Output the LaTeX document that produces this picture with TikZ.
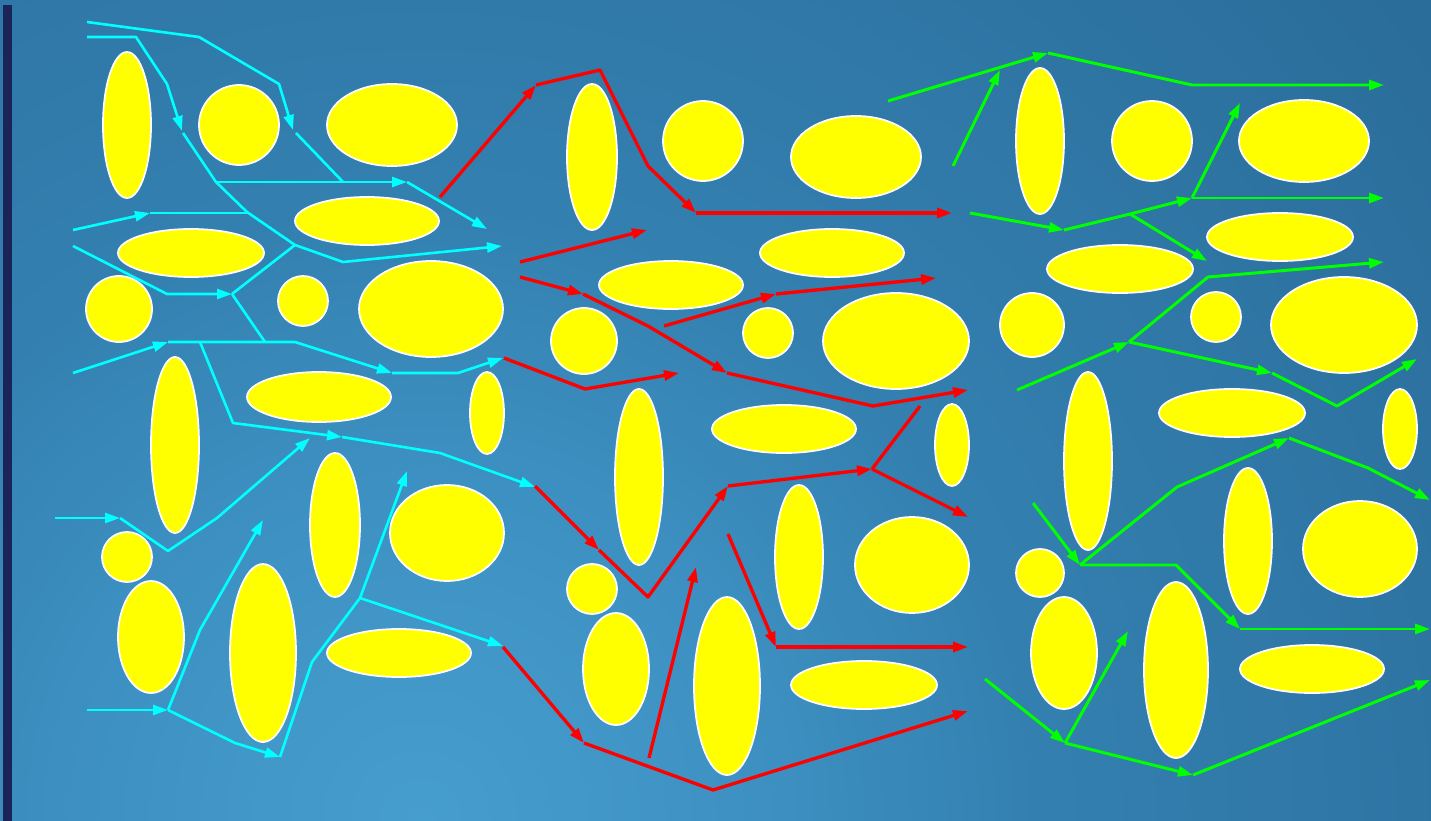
\documentclass[tikz,border=0pt]{standalone}
\usepackage{tikz}
\usetikzlibrary{arrows.meta}
\definecolor{bgA}{HTML}{469ECE}
\definecolor{bgB}{HTML}{3D91C2}
\definecolor{bgC}{HTML}{3380B0}
\definecolor{bgD}{HTML}{2B6E9C}
\definecolor{bgE}{HTML}{246793}
\definecolor{bgF}{HTML}{1F6390}
\definecolor{bgG}{HTML}{1E6290}
\definecolor{stripcol}{HTML}{1B2459}
\definecolor{grainfill}{HTML}{FFFF00}
\definecolor{cyanflow}{HTML}{00FFFF}
\definecolor{redflow}{HTML}{FF0000}
\definecolor{greenflow}{HTML}{00FF00}
\pgfdeclareradialshading{porebg}{\pgfpoint{0bp}{0bp}}{%
    color(0bp)=(bgA); color(6bp)=(bgB); color(11bp)=(bgC);
    color(22bp)=(bgD); color(28bp)=(bgE); color(36bp)=(bgF);
    color(50bp)=(bgG)}
\tikzset{
    grain/.style={
        fill=grainfill, draw=white, line width=1pt,
    },
    cyanline/.style={cyanflow, line width=1.5pt, line join=round},
    cyanarr/.style={cyanline, -{Triangle[length=0.3cm, width=0.2cm]}},
    redline/.style={redflow, line width=1.9pt, line join=round},
    redarr/.style={redline, -{Triangle[length=0.3cm, width=0.2cm]}},
    greenline/.style={greenflow, line width=1.7pt, line join=round},
    greenarr/.style={greenline, -{Triangle[length=0.3cm, width=0.2cm]}},
}
\begin{document}
\begin{tikzpicture}[x=0.02cm, y=-0.02cm]

\useasboundingbox (0,0) rectangle (1431,821);

% ── Background ─────────────────────────────────────────────────────
\begin{scope}
\clip (0,0) rectangle (1431,821);
\shade[shading=porebg] (420,820) circle [radius=1400];
\end{scope}
\fill[stripcol] (3,5) rectangle (12,821);

% ── Grains ─────────────────────────────────────────────────────────
\foreach \cx/\cy/\rx/\ry in {
    127/125/24/73, 239/125/40/40, 392/125/65/41, 367/221/72/24,
    191/253/73/24, 119/309/33/33, 303/301/25/25, 431/309/72/48,
    175/445/24/88, 319/397/72/25, 487/413/17/41, 335/525/25/72,
    447/533/57/48, 127/557/25/25, 151/637/33/56, 263/653/33/89,
    399/653/72/24,
    592/157/25/73, 703/141/40/40, 856/157/65/41, 832/253/72/24,
    671/285/72/24, 584/341/33/33, 768/333/25/25, 896/341/73/48,
    639/477/24/88, 784/429/72/24, 952/445/17/41, 799/557/24/72,
    912/565/57/48, 592/589/25/25, 616/669/33/56, 727/686/33/89,
    864/685/73/24,
    1040/141/24/73, 1152/141/40/40, 1304/141/65/41, 1280/237/73/24,
    1120/269/73/24, 1032/325/32/32, 1216/317/25/25, 1344/325/73/48,
    1088/461/24/89, 1232/413/73/24, 1400/429/17/40, 1248/541/24/73,
    1360/549/57/48, 1040/573/24/24, 1064/653/33/56, 1176/670/32/88,
    1312/669/72/24}
    \fill[grain] (\cx,\cy) ellipse [x radius=\rx, y radius=\ry];

% ── Cyan flow ──────────────────────────────────────────────────────
\draw[cyanarr] (87,22) -- (199,37) -- (279,84) -- (293,130);
\draw[cyanline] (296,133) -- (343,182);
\draw[cyanarr] (87,37) -- (136,37) -- (167,84) -- (182,131);
\draw[cyanarr] (183,133) -- (216,182) -- (247,212) -- (295,245) -- (343,262) -- (502,246);
\draw[cyanarr] (216,182) -- (407,182);
\draw[cyanarr] (407,182) -- (487,229);
\draw[cyanarr] (73,230) -- (150,213);
\draw[cyanline] (150,213) -- (247,213);
\draw[cyanarr] (73,246) -- (167,294) -- (232,294);
\draw[cyanline] (232,294) -- (295,245);
\draw[cyanline] (232,294) -- (265,342);
\draw[cyanarr] (73,373) -- (168,342);
\draw[cyanarr] (168,342) -- (295,342) -- (392,373);
\draw[cyanarr] (392,373) -- (458,373) -- (503,358);
\draw[cyanarr] (200,342) -- (233,423) -- (342,437);
\draw[cyanarr] (342,437) -- (440,453) -- (535,487);
\draw[cyanarr] (55,518) -- (120,518);
\draw[cyanarr] (120,518) -- (168,551) -- (217,518) -- (310,438);
\draw[cyanarr] (87,710) -- (168,710);
\draw[cyanarr] (168,710) -- (200,630) -- (263,520);
\draw[cyanarr] (168,710) -- (235,743) -- (280,757);
\draw[cyanarr] (280,757) -- (312,662) -- (360,598) -- (407,471);
\draw[cyanarr] (360,598) -- (503,646);

% ── Red flow ───────────────────────────────────────────────────────
\draw[redarr] (440,197) -- (536,85);
\draw[redarr] (536,85) -- (600,70) -- (648,166) -- (696,213);
\draw[redarr] (696,213) -- (952,213);
\draw[redarr] (520,262) -- (647,230);
\draw[redarr] (520,277) -- (583,294);
\draw[redarr] (583,294) -- (648,326) -- (727,373);
\draw[redarr] (727,373) -- (873,406) -- (968,390);
\draw[redarr] (664,326) -- (776,294);
\draw[redarr] (776,294) -- (936,278);
\draw[redarr] (504,358) -- (585,389) -- (679,373);
\draw[redarr] (535,486) -- (599,550);
\draw[redarr] (599,550) -- (648,597) -- (728,486);
\draw[redarr] (728,486) -- (872,469);
\draw[redline] (872,469) -- (920,406);
\draw[redarr] (872,469) -- (968,517);
\draw[redarr] (503,647) -- (584,743);
\draw[redarr] (584,743) -- (713,790) -- (968,711);
\draw[redarr] (649,758) -- (696,567);
\draw[redarr] (728,534) -- (776,647);
\draw[redarr] (776,647) -- (968,647);

% ── Green flow ─────────────────────────────────────────────────────
\draw[greenarr] (888,101) -- (1048,53);
\draw[greenarr] (1048,53) -- (1192,85) -- (1384,85);
\draw[greenarr] (953,166) -- (1000,70);
\draw[greenarr] (970,213) -- (1064,230);
\draw[greenarr] (1064,230) -- (1130,214) -- (1192,198);
\draw[greenarr] (1192,198) -- (1384,198);
\draw[greenarr] (1192,198) -- (1240,103);
\draw[greenarr] (1130,214) -- (1207,261);
\draw[greenarr] (1017,390) -- (1129,342);
\draw[greenarr] (1129,342) -- (1208,277) -- (1384,262);
\draw[greenarr] (1129,342) -- (1272,373);
\draw[greenarr] (1272,373) -- (1337,406) -- (1417,359);
\draw[greenarr] (1033,503) -- (1080,565);
\draw[greenarr] (1080,565) -- (1176,565) -- (1240,629);
\draw[greenarr] (1240,629) -- (1430,629);
\draw[greenarr] (1080,565) -- (1177,487) -- (1289,438);
\draw[greenarr] (1289,438) -- (1368,468) -- (1430,500);
\draw[greenarr] (985,679) -- (1065,743);
\draw[greenarr] (1065,743) -- (1128,631);
\draw[greenarr] (1065,743) -- (1193,775);
\draw[greenarr] (1193,775) -- (1430,680);

\end{tikzpicture}
\end{document}
